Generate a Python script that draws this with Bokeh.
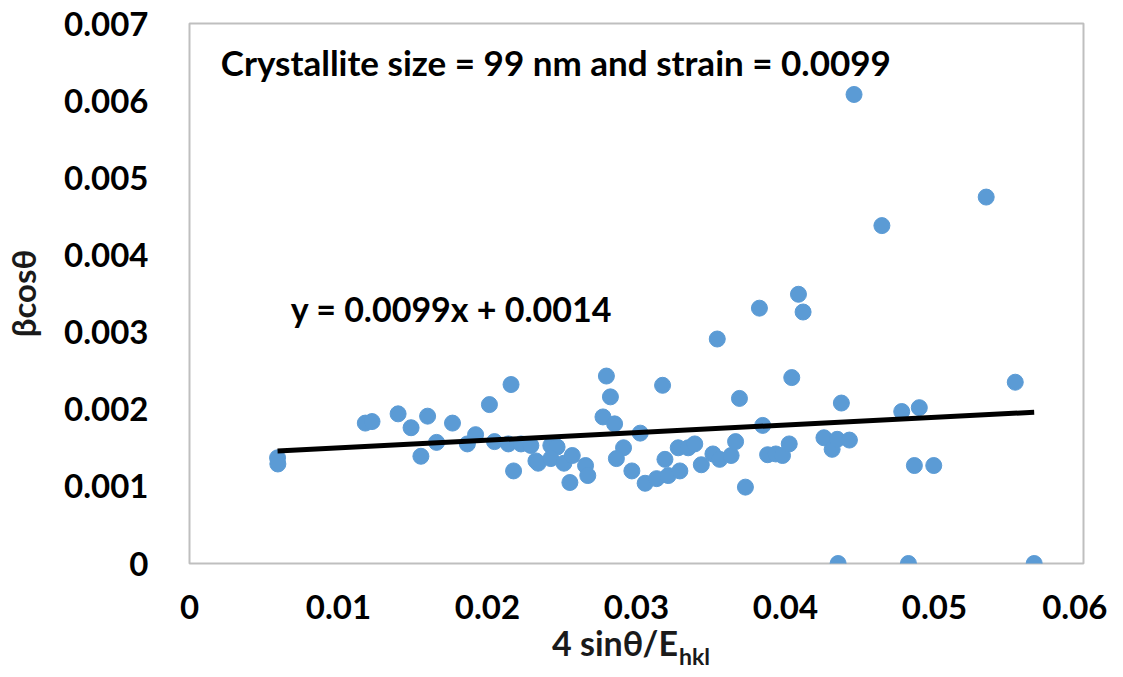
from bokeh.plotting import figure
from bokeh.models import Label, Range1d, FixedTicker, CustomJSTickFormatter, Div
from bokeh.layouts import column
from bokeh.embed import file_html
from bokeh.resources import INLINE

x_vals = [0.00591, 0.00593, 0.0118, 0.01225, 0.0140, 0.01487, 0.01598, 0.01553, 0.01658, 0.01765,
          0.01865, 0.0192, 0.02013, 0.02047, 0.02158, 0.0214, 0.02175, 0.02225, 0.02291, 0.02325,
          0.0234, 0.02425, 0.02467, 0.02425, 0.02513, 0.02569, 0.02553, 0.02658, 0.02673, 0.02798,
          0.02825, 0.02775, 0.02853, 0.02913, 0.02865, 0.02969, 0.03025, 0.03175, 0.03058, 0.03135,
          0.03191, 0.03213, 0.03291, 0.0328, 0.03347, 0.03391, 0.03435, 0.03513, 0.03558, 0.03542,
          0.03635, 0.03665, 0.03691, 0.03731, 0.03825, 0.03847, 0.0388, 0.03935, 0.0398, 0.04025,
          0.04042, 0.04087, 0.04118, 0.04258, 0.04313, 0.04347, 0.04353, 0.04375, 0.04429, 0.0446,
          0.04647, 0.0478, 0.04825, 0.04898, 0.04865, 0.04995, 0.05347, 0.05542, 0.05669]
y_vals = [0.00137, 0.00129, 0.00182, 0.00184, 0.00194, 0.00176, 0.00191, 0.00139, 0.00157, 0.00182,
          0.00155, 0.00167, 0.00206, 0.00158, 0.00232, 0.00155, 0.00120, 0.00155, 0.00153, 0.00133,
          0.00130, 0.00153, 0.00151, 0.00136, 0.00130, 0.00140, 0.00105, 0.00127, 0.00114, 0.00243,
          0.00216, 0.00190, 0.00181, 0.00150, 0.00136, 0.00120, 0.00169, 0.00231, 0.00104, 0.00110,
          0.00135, 0.00114, 0.00120, 0.00150, 0.00150, 0.00155, 0.00128, 0.00142, 0.00135, 0.00291,
          0.00140, 0.00158, 0.00214, 0.00099, 0.00331, 0.00179, 0.00141, 0.00142, 0.00140, 0.00155,
          0.00241, 0.00349, 0.00326, 0.00163, 0.00148, 0.00161, 0.0, 0.00208, 0.00160, 0.00608,
          0.00438, 0.00197, 0.0, 0.00202, 0.00127, 0.00127, 0.00475, 0.00235, 0.0]

slope = 0.0099
intercept = 0.0014
x_ticks = [0, 0.01, 0.02, 0.03, 0.04, 0.05, 0.06]
y_ticks = [0, 0.001, 0.002, 0.003, 0.004, 0.005, 0.006, 0.007]

title_text = "Crystallite size = 99 nm and strain = 0.0099"
eq_text = "y = 0.0099x + 0.0014"
x_label_main = "4 sin\u03b8/E"
x_label_sub = "hkl"
y_label = "\u03b2cos\u03b8"

FONT = "Lato"

p = figure(width=1107, height=630, output_backend="svg", toolbar_location=None,
           x_range=Range1d(0, 0.06), y_range=Range1d(0, 0.007),
           min_border_left=183, min_border_right=24, min_border_top=23, min_border_bottom=67)
p.background_fill_color = "white"
p.border_fill_color = "white"
p.outline_line_color = "#BFBFBF"
p.outline_line_width = 2
p.xgrid.visible = False
p.ygrid.visible = False

for ax in (p.xaxis[0], p.yaxis[0]):
    ax.axis_line_color = None
    ax.major_tick_line_color = None
    ax.minor_tick_line_color = None
    ax.major_label_text_font = FONT
    ax.major_label_text_font_style = "bold"
    ax.major_label_text_font_size = "33px"
    ax.major_label_text_color = "black"
    ax.axis_label_text_font = FONT
    ax.axis_label_text_font_style = "bold"
    ax.axis_label_text_font_size = "33px"
    ax.axis_label_text_color = "#1a1a1a"

p.xaxis.ticker = FixedTicker(ticks=x_ticks)
p.yaxis.ticker = FixedTicker(ticks=y_ticks)
p.xaxis.formatter = CustomJSTickFormatter(code="return tick == 0 ? '0' : tick.toFixed(2);")
p.yaxis.formatter = CustomJSTickFormatter(code="return tick == 0 ? '0' : tick.toFixed(3);")
p.xaxis.major_label_standoff = 25
p.yaxis.major_label_standoff = 35

p.yaxis.axis_label = y_label
p.yaxis.axis_label_standoff = 18

p.scatter(x_vals, y_vals, size=16, marker="circle", fill_color="#5B9BD5", line_color="#5B9BD5")

x_fit = [min(x_vals), max(x_vals)]
y_fit = [slope * xv + intercept for xv in x_fit]
p.line(x_fit, y_fit, line_color="black", line_width=5)

p.add_layout(Label(x=0.0021, y=0.00650, text=title_text, text_font=FONT, text_font_size="35px",
                   text_font_style="bold", text_baseline="middle", text_align="left", text_color="black"))
p.add_layout(Label(x=0.0068, y=0.00330, text=eq_text, text_font=FONT, text_font_size="34px",
                   text_font_style="bold", text_baseline="middle", text_align="left", text_color="black"))

xlabel_html = (
    '<div style="position:relative; top:-6px; margin-left:552px; text-align:left; font-family:Lato; '
    'font-weight:bold; font-size:34px; line-height:38px; color:#1a1a1a; white-space:nowrap;">'
    + x_label_main
    + '<span style="font-size:23px; position:relative; top:9px; margin-left:1px;">' + x_label_sub + '</span></div>'
)
xlabel_div = Div(text=xlabel_html, width=1107, height=38, margin=0)

layout = column(p, xlabel_div, spacing=0)
open("out.html", "w").write(file_html(layout, INLINE))
